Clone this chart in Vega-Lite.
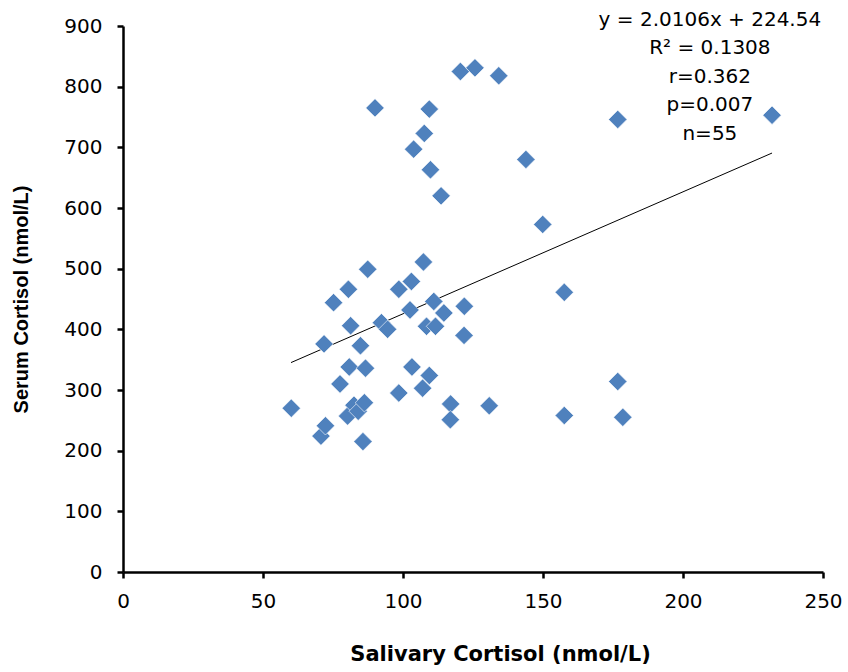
{
  "$schema": "https://vega.github.io/schema/vega-lite/v6.json",
  "width": 700,
  "height": 546,
  "autosize": {"type": "none"},
  "padding": {"left": 123, "top": 26, "right": 25, "bottom": 100},
  "background": "white",
  "config": {"view": {"stroke": null}, "font": "DejaVu Sans"},
  "datasets": {
    "pts": [
      {"sal": 60.1, "ser": 270}, {"sal": 70.7, "ser": 224}, {"sal": 72.3, "ser": 241},
      {"sal": 71.8, "ser": 376}, {"sal": 75.2, "ser": 444}, {"sal": 77.5, "ser": 310},
      {"sal": 80.2, "ser": 257}, {"sal": 80.8, "ser": 338}, {"sal": 81.3, "ser": 406},
      {"sal": 80.5, "ser": 466}, {"sal": 82.5, "ser": 275}, {"sal": 84.0, "ser": 265},
      {"sal": 86.2, "ser": 279}, {"sal": 85.7, "ser": 215}, {"sal": 84.8, "ser": 373},
      {"sal": 86.6, "ser": 336}, {"sal": 87.4, "ser": 499}, {"sal": 90.0, "ser": 765},
      {"sal": 92.3, "ser": 411}, {"sal": 94.5, "ser": 400}, {"sal": 98.5, "ser": 466},
      {"sal": 98.5, "ser": 295}, {"sal": 103.0, "ser": 479}, {"sal": 102.5, "ser": 432},
      {"sal": 103.2, "ser": 338}, {"sal": 103.8, "ser": 697}, {"sal": 107.3, "ser": 511},
      {"sal": 107.0, "ser": 303}, {"sal": 107.6, "ser": 723}, {"sal": 109.4, "ser": 763},
      {"sal": 109.8, "ser": 663}, {"sal": 109.4, "ser": 324}, {"sal": 111.0, "ser": 446},
      {"sal": 114.6, "ser": 427}, {"sal": 108.4, "ser": 405}, {"sal": 111.6, "ser": 405},
      {"sal": 113.6, "ser": 620}, {"sal": 117.0, "ser": 277}, {"sal": 116.9, "ser": 251},
      {"sal": 120.5, "ser": 825}, {"sal": 121.9, "ser": 438}, {"sal": 121.8, "ser": 390},
      {"sal": 125.7, "ser": 831}, {"sal": 130.8, "ser": 274}, {"sal": 134.2, "ser": 818},
      {"sal": 143.9, "ser": 680}, {"sal": 149.9, "ser": 573}, {"sal": 157.6, "ser": 461},
      {"sal": 157.6, "ser": 258}, {"sal": 176.7, "ser": 746}, {"sal": 176.7, "ser": 314},
      {"sal": 178.5, "ser": 255}, {"sal": 231.8, "ser": 753}
    ],
    "trend": [
      {"sal": 60.0, "ser": 345.2},
      {"sal": 231.8, "ser": 690.6}
    ],
    "note": [
      {"sal": 209.6, "ser": 910, "txt": ["y = 2.0106x + 224.54", "R² = 0.1308", "r=0.362", "p=0.007", "n=55"]}
    ]
  },
  "layer": [
    {
      "data": {"name": "trend"},
      "mark": {"type": "line", "color": "#000000", "strokeWidth": 1},
      "encoding": {
        "x": {"field": "sal", "type": "quantitative"},
        "y": {"field": "ser", "type": "quantitative"}
      }
    },
    {
      "data": {"name": "pts"},
      "mark": {"type": "point", "shape": "diamond", "filled": true, "size": 340, "color": "#4F81BD", "opacity": 1, "stroke": "#ffffff", "strokeWidth": 0.6},
      "encoding": {
        "x": {
          "field": "sal", "type": "quantitative",
          "scale": {"domain": [0, 250], "nice": false, "zero": true},
          "axis": {
            "title": "Salivary Cortisol (nmol/L)", "values": [0, 50, 100, 150, 200, 250],
            "grid": false, "domainColor": "#000000", "domainWidth": 2.5, "tickColor": "#000000",
            "tickWidth": 2.5, "tickSize": 6, "labelFontSize": 20, "labelColor": "#000000",
            "labelPadding": 13, "labelFont": "DejaVu Sans", "titleFont": "DejaVu Sans",
            "titleFontSize": 21, "titleFontWeight": "bold", "titleColor": "#000000", "titlePadding": 32,
            "titleX": 377, "titleAnchor": "middle", "labelFlush": false
          }
        },
        "y": {
          "field": "ser", "type": "quantitative",
          "scale": {"domain": [0, 900], "nice": false},
          "axis": {
            "title": "Serum Cortisol (nmol/L)", "values": [0, 100, 200, 300, 400, 500, 600, 700, 800, 900],
            "grid": false, "domainColor": "#000000", "domainWidth": 2.5, "tickColor": "#000000",
            "tickWidth": 2.5, "tickSize": 6, "labelFontSize": 20, "labelColor": "#000000",
            "labelPadding": 15, "labelFont": "DejaVu Sans", "titleFont": "Liberation Sans",
            "titleFontSize": 20, "titleFontWeight": "bold", "titleColor": "#000000", "titlePadding": 32,
            "labelFlush": false
          }
        }
      }
    },
    {
      "data": {"name": "note"},
      "mark": {"type": "text", "align": "center", "baseline": "middle", "fontSize": 20, "lineHeight": 28.5, "color": "#000000", "font": "DejaVu Sans", "clip": false},
      "encoding": {
        "x": {"field": "sal", "type": "quantitative"},
        "y": {"field": "ser", "type": "quantitative"},
        "text": {"field": "txt"}
      }
    }
  ]
}
